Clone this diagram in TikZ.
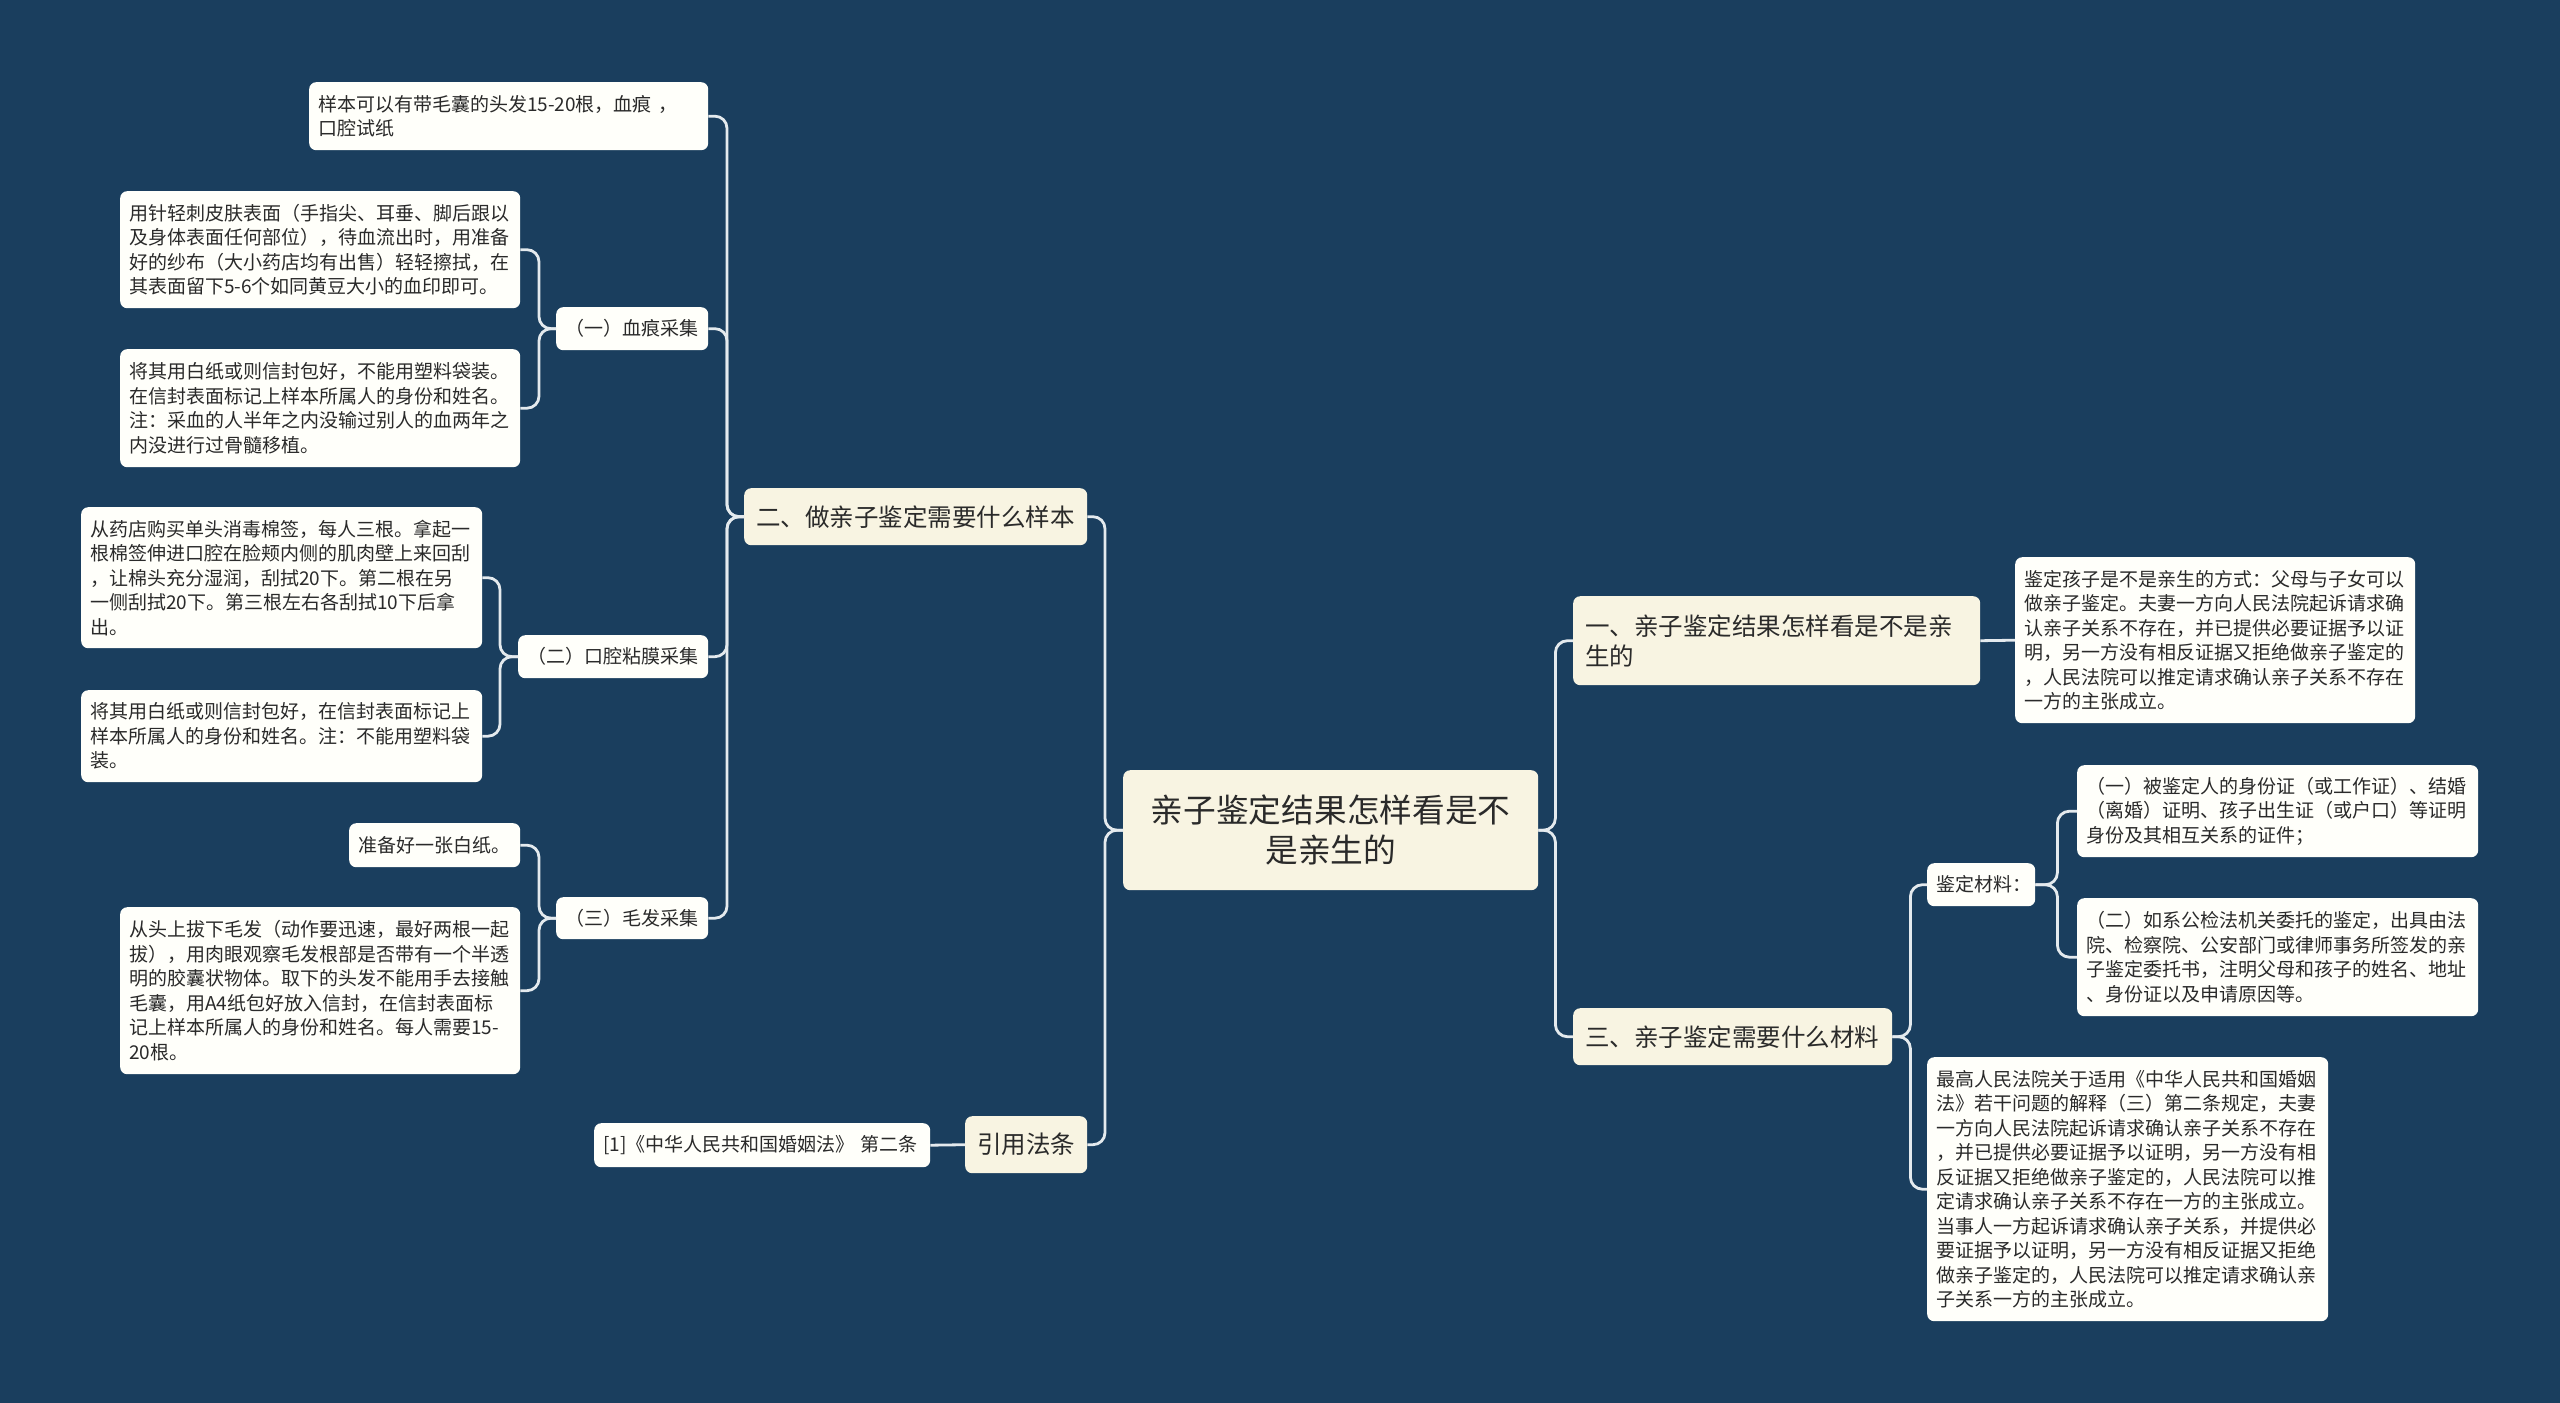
\documentclass[tikz,border=0pt]{standalone}
\usepackage{fontspec}
\setmainfont{Noto Sans CJK SC}
\definecolor{bg}{HTML}{1A3E5E}
\definecolor{cream}{HTML}{F8F4E2}
\definecolor{leafc}{HTML}{FFFFFA}
\definecolor{linec}{HTML}{E4EAEE}
\definecolor{txt}{HTML}{2A2A2A}
\tikzset{
 box/.style={draw=none, rounded corners=7pt, inner sep=0pt, text=txt, anchor=north west},
 mainbox/.style={box, fill=cream, font=\fontsize{32.7}{40}\selectfont, align=center},
 branchbox/.style={box, fill=cream, font=\fontsize{24.5}{30}\selectfont, align=left},
 leafbox/.style={box, fill=leafc, font=\fontsize{19}{24.5}\selectfont, align=left},
 conn/.style={draw=linec, line width=2.8pt, rounded corners=12pt},
}
% style, name, x, y, w, h, text ; text width = w - 2*pad
\newcommand\bx[8]{\pgfmathsetlengthmacro\mytw{#5pt-2*#8pt}%
\node[#1, minimum width=#5pt, minimum height=#6pt, text width=\mytw] (#2) at (#3pt,-#4pt) {#7};}
\newcommand\cbx[7]{\node[#1, minimum width=#5pt, minimum height=#6pt] (#2) at (#3pt,-#4pt) {#7};}
\begin{document}
\begin{tikzpicture}
\fill[bg] (0,0) rectangle (2560pt,-1403pt);
\useasboundingbox (0,0) rectangle (2560pt,-1403pt);

% center and branches
\cbx{mainbox}{c}{1123}{770}{415}{120}{亲子鉴定结果怎样看是不\\是亲生的}
\bx{branchbox}{b2}{744}{488}{343}{57}{\mbox{二、做亲子鉴定需要什么样本}}{12}
\bx{branchbox}{yy}{965}{1116}{122}{57}{\mbox{引用法条}}{12}
\bx{branchbox}{b1}{1573}{596}{407}{89}{一、亲子鉴定结果怎样看是不是亲\\生的}{12}
\bx{branchbox}{b3}{1573}{1008}{319}{57}{\mbox{三、亲子鉴定需要什么材料}}{12}

% left side
\bx{leafbox}{l0}{309}{82}{399}{68}{样本可以有带毛囊的头发15-20根，血痕 ，\\口腔试纸}{9}
\bx{leafbox}{s1}{556}{307}{152}{43}{\mbox{（一）血痕采集}}{9}
\bx{leafbox}{s1a}{120}{191}{400}{117}{用针轻刺皮肤表面（手指尖、耳垂、脚后跟以\\及身体表面任何部位），待血流出时，用准备\\好的纱布（大小药店均有出售）轻轻擦拭，在\\其表面留下5-6个如同黄豆大小的血印即可。}{9}
\bx{leafbox}{s1b}{120}{349}{400}{118}{将其用白纸或则信封包好，不能用塑料袋装。\\在信封表面标记上样本所属人的身份和姓名。\\注：采血的人半年之内没输过别人的血两年之\\内没进行过骨髓移植。}{9}
\bx{leafbox}{s2}{518}{635}{190}{43}{\mbox{（二）口腔粘膜采集}}{9}
\bx{leafbox}{s2a}{81}{507}{401}{141}{从药店购买单头消毒棉签，每人三根。拿起一\\根棉签伸进口腔在脸颊内侧的肌肉壁上来回刮\\，让棉头充分湿润，刮拭20下。第二根在另\\一侧刮拭20下。第三根左右各刮拭10下后拿\\出。}{9}
\bx{leafbox}{s2b}{81}{690}{401}{92}{将其用白纸或则信封包好，在信封表面标记上\\样本所属人的身份和姓名。注：不能用塑料袋\\装。}{9}
\bx{leafbox}{s3}{556}{897}{152}{42}{\mbox{（三）毛发采集}}{9}
\bx{leafbox}{s3a}{349}{823}{171}{44}{\mbox{准备好一张白纸。}}{9}
\bx{leafbox}{s3b}{120}{907}{400}{167}{从头上拔下毛发（动作要迅速，最好两根一起\\拔），用肉眼观察毛发根部是否带有一个半透\\明的胶囊状物体。取下的头发不能用手去接触\\毛囊，用A4纸包好放入信封，在信封表面标\\记上样本所属人的身份和姓名。每人需要15-\\20根。}{9}
\bx{leafbox}{law}{594}{1123}{336}{44}{\mbox{[1]《中华人民共和国婚姻法》 第二条}}{9}

% right side
\bx{leafbox}{r1}{2015}{557}{400}{166}{鉴定孩子是不是亲生的方式：父母与子女可以\\做亲子鉴定。夫妻一方向人民法院起诉请求确\\认亲子关系不存在，并已提供必要证据予以证\\明，另一方没有相反证据又拒绝做亲子鉴定的\\，人民法院可以推定请求确认亲子关系不存在\\一方的主张成立。}{9}
\bx{leafbox}{m}{1927}{863}{108}{43}{\mbox{鉴定材料：}}{9}
\bx{leafbox}{m1}{2077}{765}{401}{92}{（一）被鉴定人的身份证（或工作证）、结婚\\（离婚）证明、孩子出生证（或户口）等证明\\身份及其相互关系的证件；}{9}
\bx{leafbox}{m2}{2077}{898}{401}{118}{（二）如系公检法机关委托的鉴定，出具由法\\院、检察院、公安部门或律师事务所签发的亲\\子鉴定委托书，注明父母和孩子的姓名、地址\\、身份证以及申请原因等。}{9}
\bx{leafbox}{r3}{1927}{1057}{401}{264}{最高人民法院关于适用《中华人民共和国婚姻\\法》若干问题的解释（三）第二条规定，夫妻\\一方向人民法院起诉请求确认亲子关系不存在\\，并已提供必要证据予以证明，另一方没有相\\反证据又拒绝做亲子鉴定的，人民法院可以推\\定请求确认亲子关系不存在一方的主张成立。\\当事人一方起诉请求确认亲子关系，并提供必\\要证据予以证明，另一方没有相反证据又拒绝\\做亲子鉴定的，人民法院可以推定请求确认亲\\子关系一方的主张成立。}{9}

% connectors
\draw[conn] (c.west) -- ++(-18pt,0) |- (b2.east);
\draw[conn] (c.west) -- ++(-18pt,0) |- (yy.east);
\draw[conn] (c.east) -- ++(17pt,0) |- (b1.west);
\draw[conn] (c.east) -- ++(17pt,0) |- (b3.west);
\draw[conn] (b2.west) -- ++(-17pt,0) |- (l0.east);
\draw[conn] (b2.west) -- ++(-17pt,0) |- (s1.east);
\draw[conn] (b2.west) -- ++(-17pt,0) |- (s2.east);
\draw[conn] (b2.west) -- ++(-17pt,0) |- (s3.east);
\draw[conn] (s1.west) -- ++(-17pt,0) |- (s1a.east);
\draw[conn] (s1.west) -- ++(-17pt,0) |- (s1b.east);
\draw[conn] (s2.west) -- ++(-18pt,0) |- (s2a.east);
\draw[conn] (s2.west) -- ++(-18pt,0) |- (s2b.east);
\draw[conn] (s3.west) -- ++(-17pt,0) |- (s3a.east);
\draw[conn] (s3.west) -- ++(-17pt,0) |- (s3b.east);
\draw[conn] (yy.west) -- (law.east);
\draw[conn] (b1.east) -- (r1.west);
\draw[conn] (b3.east) -- ++(18pt,0) |- (m.west);
\draw[conn] (b3.east) -- ++(18pt,0) |- (r3.west);
\draw[conn] (m.east) -- ++(22pt,0) |- (m1.west);
\draw[conn] (m.east) -- ++(22pt,0) |- (m2.west);
\end{tikzpicture}
\end{document}
